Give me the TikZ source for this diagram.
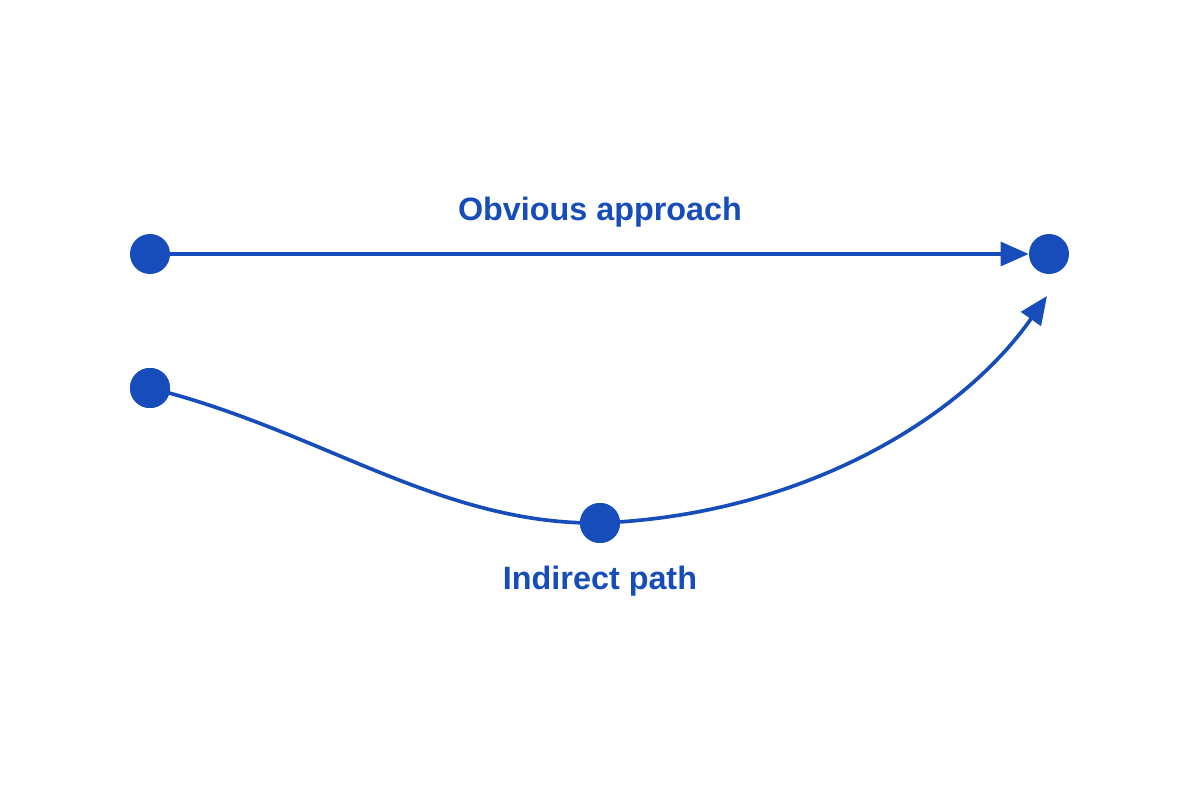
\documentclass[tikz,border=0pt]{standalone}
\usepackage{fontspec}
\setmainfont{Liberation Sans}
\usetikzlibrary{arrows.meta}
\definecolor{cb}{HTML}{164DBB}
\begin{document}
\begin{tikzpicture}[x=0.025cm,y=-0.025cm,
  dot/.style={circle,fill=cb,inner sep=0pt,minimum size=1cm},
  conn/.style={draw=cb,line width=2.6pt,-{Triangle[length=20pt,width=17pt]}},
  lbl/.style={text=cb,font=\fontsize{23}{27}\selectfont\bfseries}]
\useasboundingbox (0,0) rectangle (1200,800);
\node[dot] (a) at (150,254) {};
\node[dot] (b) at (1049,254) {};
\node[dot] (c) at (150,388) {};
\node[dot] (d) at (600,523) {};
\coordinate (e) at (1047,296);
\node[lbl] (t1) at (600,212) {Obvious approach};
\node[lbl] (t2) at (600,581) {Indirect path};
\draw[conn] (a) -- (b.west);
\draw[conn] (c.center) .. controls (320,430) and (440,525) .. (d.center) .. controls (800,515) and (960,420) .. (e);
\node[dot] at (d) {};
\node[dot] at (c) {};
\end{tikzpicture}
\end{document}
